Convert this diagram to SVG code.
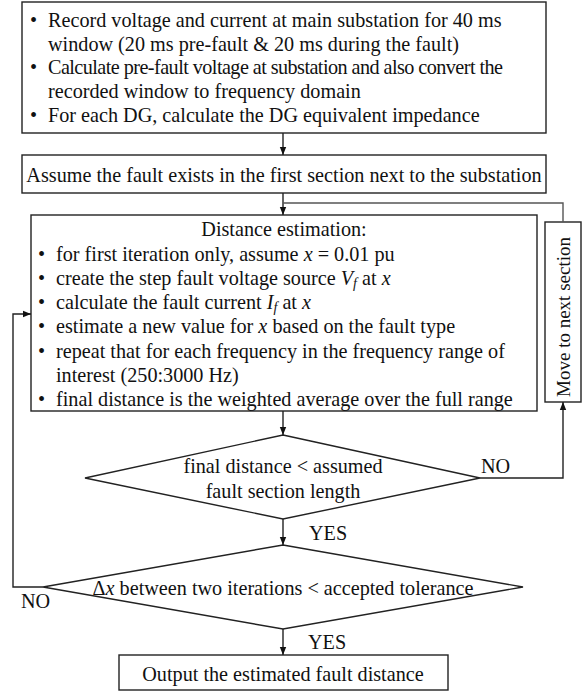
<svg xmlns="http://www.w3.org/2000/svg" width="588" height="692" viewBox="0 0 588 692">
<defs>
<marker id="ah" viewBox="0 0 10 10" refX="10" refY="5" markerWidth="8" markerHeight="8" markerUnits="userSpaceOnUse" orient="auto">
<path d="M0,1 L10,5 L0,9 Z" fill="#111"/>
</marker>
</defs>
<style>
.box{fill:#fff;stroke:#222;stroke-width:1.4}
.t{font-family:"Liberation Serif","Times New Roman",serif;font-size:20.2px;fill:#111}
.c{text-anchor:middle}
.i{font-style:italic}
.ln{fill:none;stroke:#222;stroke-width:1.4}
.g{stroke:#555}
</style>
<g id="n1">
<rect class="box" x="22" y="2" width="524" height="131"/>
<text class="t" x="30" y="27">•</text><text class="t" x="48" y="27">Record voltage and current at main substation for 40 ms</text>
<text class="t" x="48" y="50.5">window (20 ms pre-fault &amp; 20 ms during the fault)</text>
<text class="t" x="30" y="74">•</text><text class="t" x="48" y="74" textLength="455" lengthAdjust="spacing">Calculate pre-fault voltage at substation and also convert the</text>
<text class="t" x="48" y="97.5">recorded window to frequency domain</text>
<text class="t" x="30" y="121.5">•</text><text class="t" x="48" y="121.5">For each DG, calculate the DG equivalent impedance</text>
</g>
<g id="n2">
<rect class="box" x="22" y="155" width="524" height="38"/>
<text class="t c" x="284" y="181.5">Assume the fault exists in the first section next to the substation</text>
</g>
<g id="n3">
<rect class="box" x="31" y="215" width="506" height="196"/>
<text class="t c" x="284" y="236">Distance estimation:</text>
<text class="t" x="38" y="261">•</text><text class="t" x="56" y="261">for first iteration only, assume <tspan class="i">x</tspan> = 0.01 pu</text>
<text class="t" x="38" y="284.5">•</text><text class="t" x="56" y="284.5">create the step fault voltage source <tspan class="i">V</tspan><tspan class="i" font-size="14" dy="3">f</tspan><tspan dy="-3"> at </tspan><tspan class="i">x</tspan></text>
<text class="t" x="38" y="308.5">•</text><text class="t" x="56" y="308.5">calculate the fault current <tspan class="i">I</tspan><tspan class="i" font-size="14" dy="3">f</tspan><tspan dy="-3"> at </tspan><tspan class="i">x</tspan></text>
<text class="t" x="38" y="333">•</text><text class="t" x="56" y="333">estimate a new value for <tspan class="i">x</tspan> based on the fault type</text>
<text class="t" x="38" y="357.5">•</text><text class="t" x="56" y="357.5">repeat that for each frequency in the frequency range of</text>
<text class="t" x="56" y="381.5">interest (250:3000 Hz)</text>
<text class="t" x="38" y="405.5">•</text><text class="t" x="56" y="405.5">final distance is the weighted average over the full range</text>
</g>
<g id="n4">
<rect class="box" x="545" y="222" width="36" height="180"/>
<text class="t c" transform="translate(570,317) rotate(-90)" x="0" y="0" font-size="19" style="font-size:19px">Move to next section</text>
</g>
<g id="d1">
<polygon class="box" points="283,435 480,478 283,519 85,478"/>
<text class="t c" x="283" y="472.5">final distance &lt; assumed</text>
<text class="t c" x="283" y="497.5">fault section length</text>
</g>
<g id="d2">
<polygon class="box" points="283,545 523,587 283,629 43,587"/>
<text class="t c" x="283" y="595">Δ<tspan class="i">x</tspan> between two iterations &lt; accepted tolerance</text>
</g>
<g id="n5">
<rect class="box" x="119" y="655" width="329" height="35"/>
<text class="t c" x="283" y="680.5">Output the estimated fault distance</text>
</g>
<g id="connectors">
<line class="ln" x1="283" y1="133" x2="283" y2="155" marker-end="url(#ah)"/>
<line class="ln" x1="283" y1="193" x2="283" y2="215" marker-end="url(#ah)"/>
<polyline class="ln g" points="283,203 563,203 563,222"/>
<line class="ln" x1="283" y1="411" x2="283" y2="435" marker-end="url(#ah)"/>
<polyline class="ln" points="480,478 563,478 563,402" marker-end="url(#ah)"/>
<line class="ln" x1="283" y1="519" x2="283" y2="545" marker-end="url(#ah)"/>
<line class="ln" x1="283" y1="629" x2="283" y2="655" marker-end="url(#ah)"/>
<polyline class="ln" points="43,587 13,587 13,314 31,314" marker-end="url(#ah)"/>
<text class="t" x="481" y="473">NO</text>
<text class="t" x="309" y="540">YES</text>
<text class="t" x="21" y="608">NO</text>
<text class="t" x="308" y="648.5">YES</text>
</g>
</svg>
